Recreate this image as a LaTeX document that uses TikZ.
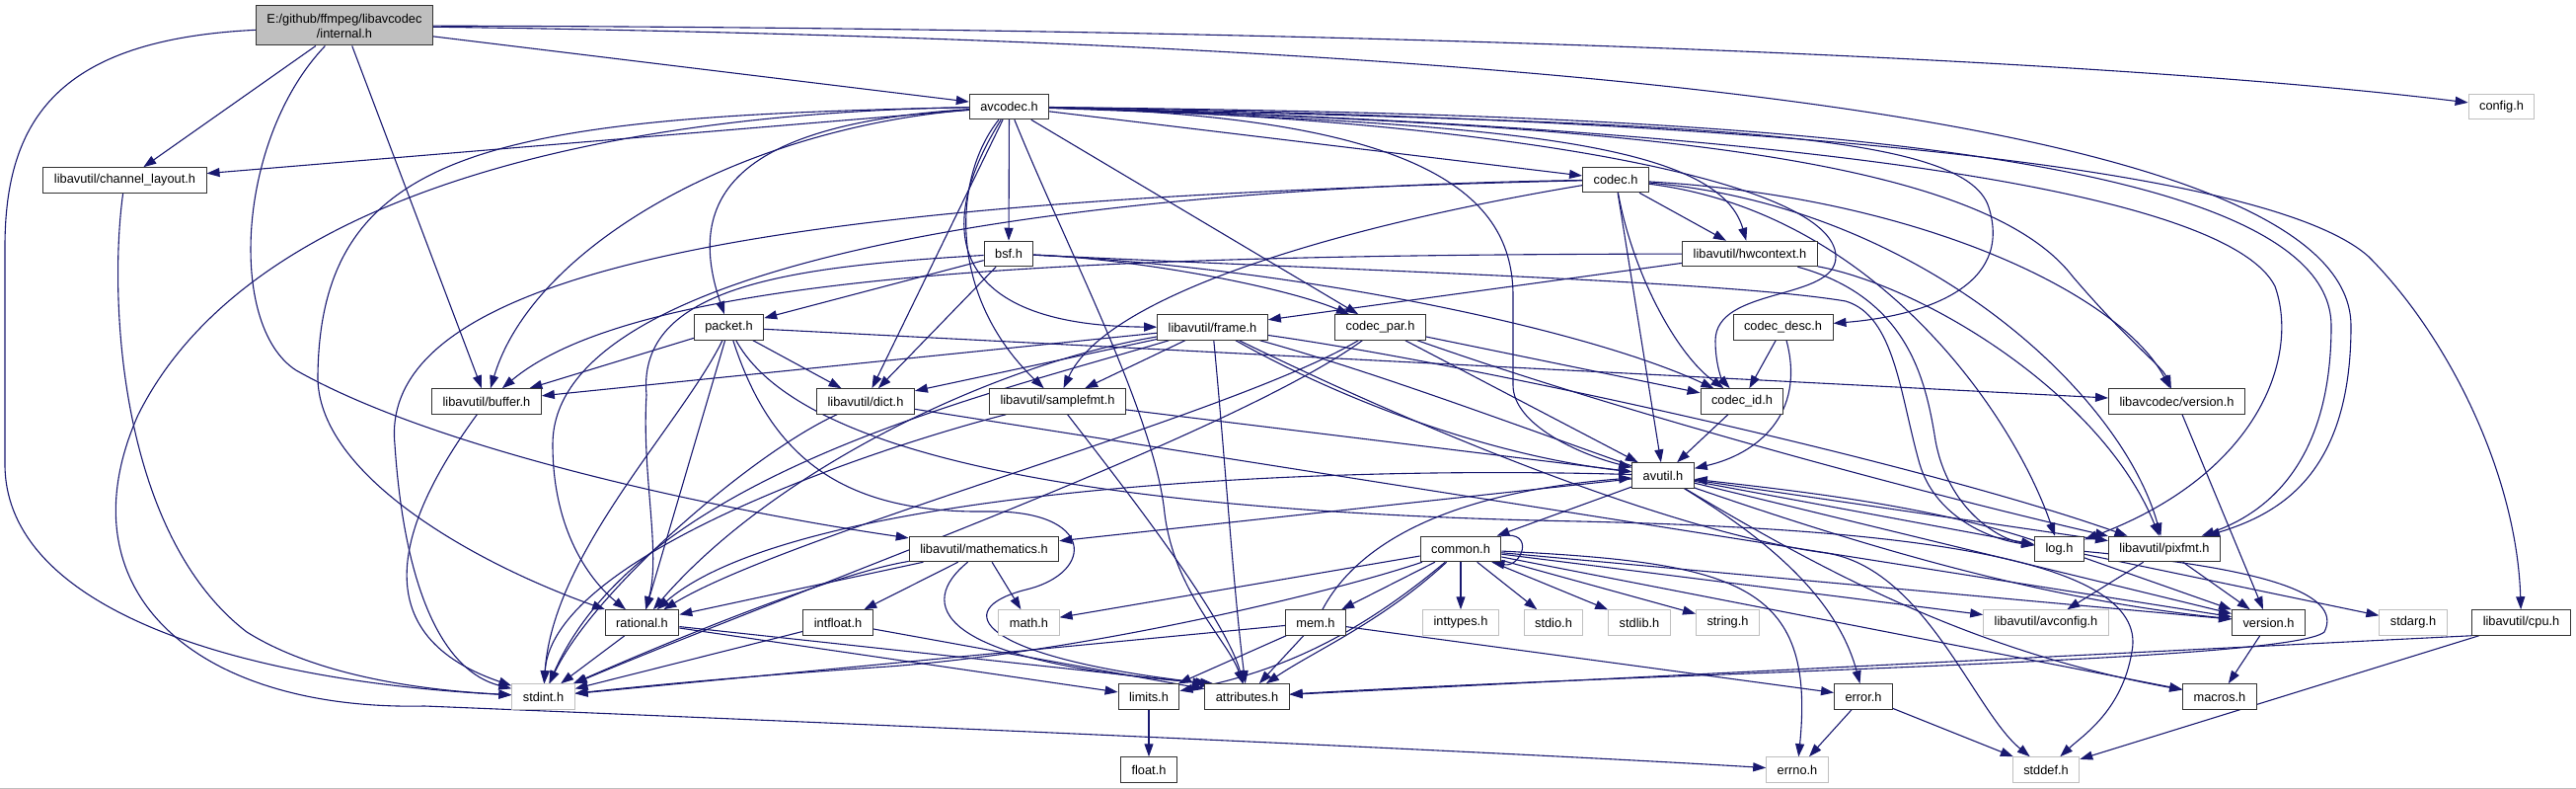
\documentclass[tikz,border=0pt]{standalone}
\usepackage{fontspec}
\setmainfont{Liberation Sans}
\usetikzlibrary{arrows.meta,backgrounds}
\definecolor{edgeblue}{HTML}{191970}
\definecolor{sysline}{HTML}{BFBFBF}
\definecolor{rootfill}{HTML}{BFBFBF}
\tikzset{
  hdr/.style={draw=black!80, line width=1pt, fill=white, inner xsep=11pt,
    minimum height=25.5pt, font=\fontsize{12.8}{15}\selectfont},
  syshdr/.style={hdr, draw=sysline},
  rootfile/.style={hdr, fill=rootfill, minimum height=40pt, align=center},
  dep/.style={draw=edgeblue, line width=1.1pt, -{Triangle[length=13pt,width=9pt]}}
}

\begin{document}
\begin{tikzpicture}[x=1pt, y=-1pt]
  \useasboundingbox (0,0) rectangle (2610,799);
  \node[rootfile] (internal) at (349,26) {E:/github/ffmpeg/libavcodec\\/internal.h};
  \node[syshdr] (config) at (2534.5,108) {config.h};
  \node[hdr] (avcodec) at (1022.5,108) {avcodec.h};
  \node[hdr] (chlayout) at (126.5,182.5) {libavutil/channel\_layout.h};
  \node[hdr] (codec) at (1637,182) {codec.h};
  \node[hdr] (bsf) at (1022,257) {bsf.h};
  \node[hdr] (hwctx) at (1773,257) {libavutil/hwcontext.h};
  \node[hdr] (packet) at (738.5,331.5) {packet.h};
  \node[hdr] (frame) at (1228.5,331.5) {libavutil/frame.h};
  \node[hdr] (codecpar) at (1398.5,331.5) {codec\_par.h};
  \node[hdr] (codecdesc) at (1806.5,331.5) {codec\_desc.h};
  \node[hdr] (buffer) at (493,406.5) {libavutil/buffer.h};
  \node[hdr] (dict) at (877,406.5) {libavutil/dict.h};
  \node[hdr] (samplefmt) at (1071.5,406.5) {libavutil/samplefmt.h};
  \node[hdr] (codecid) at (1765,406.5) {codec\_id.h};
  \node[hdr] (avcver) at (2205.5,406.5) {libavcodec/version.h};
  \node[hdr] (avutil) at (1685,481.5) {avutil.h};
  \node[hdr] (mathematics) at (997,556) {libavutil/mathematics.h};
  \node[hdr] (common) at (1480,556) {common.h};
  \node[hdr] (logh) at (2086.5,556) {log.h};
  \node[hdr] (pixfmt) at (2193,556) {libavutil/pixfmt.h};
  \node[hdr] (rational) at (650.5,630.5) {rational.h};
  \node[hdr] (intfloat) at (849,630.5) {intfloat.h};
  \node[syshdr] (mathh) at (1042.5,630.5) {math.h};
  \node[hdr] (mem) at (1333,630.5) {mem.h};
  \node[syshdr] (inttypes) at (1480,630.5) {inttypes.h};
  \node[syshdr] (stdio) at (1574,630.5) {stdio.h};
  \node[syshdr] (stdlib) at (1661,630.5) {stdlib.h};
  \node[syshdr] (stringh) at (1750.5,630.5) {string.h};
  \node[syshdr] (avconfig) at (2073,630.5) {libavutil/avconfig.h};
  \node[hdr] (version) at (2298.5,630.5) {version.h};
  \node[syshdr] (stdarg) at (2445,630.5) {stdarg.h};
  \node[hdr] (cpu) at (2554.5,630.5) {libavutil/cpu.h};
  \node[syshdr] (stdint) at (550.5,705.5) {stdint.h};
  \node[hdr] (limits) at (1164,705.5) {limits.h};
  \node[hdr] (attributes) at (1263.5,705.5) {attributes.h};
  \node[hdr] (error) at (1888,705.5) {error.h};
  \node[hdr] (macros) at (2249,705.5) {macros.h};
  \node[hdr] (floath) at (1164,779.5) {float.h};
  \node[syshdr] (errno) at (1821,779.5) {errno.h};
  \node[syshdr] (stddef) at (2073,779.5) {stddef.h};
  \draw[sysline, line width=1pt] (0,798) -- (2610,798);

  \begin{scope}[on background layer]
    % internal.h
    \draw[dep] (internal) .. controls (1300,28) and (2100,55) .. (config);
    \draw[dep] (internal) .. controls (1500,42) and (2382,110) .. (2382,330) .. controls (2382,480) and (2310,520) .. (pixfmt);
    \draw[dep] (internal) -- (avcodec);
    \draw[dep] (internal) -- (chlayout);
    \draw[dep] (internal) .. controls (240,140) and (230,330) .. (300,375) .. controls (450,460) and (750,520) .. (mathematics);
    \draw[dep] (internal) -- (buffer);
    \draw[dep] (internal) .. controls (60,40) and (5,120) .. (5,250) -- (5,470) .. controls (5,620) and (250,690) .. (stdint);
    % avcodec.h
    \draw[dep] (avcodec) -- (chlayout);
    \draw[dep] (avcodec) .. controls (600,115) and (250,200) .. (140,420) .. controls (60,600) and (200,720) .. (430,715) .. controls (800,730) and (1500,760) .. (errno);
    \draw[dep] (avcodec) .. controls (500,118) and (325,150) .. (322,380) .. controls (320,480) and (480,570) .. (rational);
    \draw[dep] (avcodec) .. controls (750,130) and (540,250) .. (buffer);
    \draw[dep] (avcodec) .. controls (760,125) and (690,190) .. (packet);
    \draw[dep] (avcodec) -- (dict);
    \draw[dep] (avcodec) .. controls (965,180) and (960,300) .. (samplefmt);
    \draw[dep] (avcodec) -- (bsf);
    \draw[dep] (avcodec) .. controls (940,240) and (970,330) .. (frame);
    \draw[dep] (avcodec) -- (codecpar);
    \draw[dep] (avcodec) -- (codec);
    \draw[dep] (avcodec) .. controls (1500,125) and (1740,140) .. (hwctx);
    \draw[dep] (avcodec) .. controls (1500,120) and (1860,180) .. (1860,260) .. controls (1860,305) and (1738,290) .. (1738,345) .. controls (1738,370) and (1745,385) .. (codecid);
    \draw[dep] (avcodec) .. controls (1700,125) and (1990,130) .. (2015,210) .. controls (2040,290) and (1950,320) .. (codecdesc);
    \draw[dep] (avcodec) .. controls (1600,125) and (2000,150) .. (2100,280) .. controls (2160,350) and (2190,370) .. (avcver);
    \draw[dep] (avcodec) .. controls (1700,125) and (2250,180) .. (2305,290) .. controls (2330,360) and (2290,480) .. (logh);
    \draw[dep] (avcodec) .. controls (1600,115) and (2362,130) .. (2362,330) .. controls (2362,470) and (2295,520) .. (pixfmt);
    \draw[dep] (avcodec) .. controls (1450,118) and (1533,200) .. (1533,300) -- (1533,390) .. controls (1533,430) and (1600,460) .. (avutil);
    \draw[dep] (avcodec) .. controls (1800,120) and (2300,170) .. (2400,260) .. controls (2480,340) and (2550,480) .. (cpu);
    \draw[dep] (avcodec) .. controls (1080,250) and (1170,420) .. (1180,520) .. controls (1190,600) and (1245,650) .. (attributes);
    % channel_layout.h
    \draw[dep] (chlayout) .. controls (110,300) and (120,540) .. (250,640) .. controls (330,690) and (450,700) .. (stdint);
    % codec.h
    \draw[dep] (codec) .. controls (900,200) and (380,250) .. (400,450) .. controls (410,600) and (450,680) .. (stdint);
    \draw[dep] (codec) .. controls (1100,190) and (560,260) .. (560,450) .. controls (560,540) and (600,590) .. (rational);
    \draw[dep] (codec) -- (avutil);
    \draw[dep] (codec) -- (hwctx);
    \draw[dep] (codec) .. controls (1900,215) and (2040,420) .. (logh);
    \draw[dep] (codec) .. controls (1950,210) and (2150,400) .. (pixfmt);
    \draw[dep] (codec) .. controls (1350,230) and (1120,300) .. (samplefmt);
    \draw[dep] (codec) .. controls (1655,280) and (1700,360) .. (codecid);
    \draw[dep] (codec) .. controls (1950,200) and (2150,300) .. (avcver);
    % bsf.h
    \draw[dep] (bsf) -- (dict);
    \draw[dep] (bsf) -- (packet);
    \draw[dep] (bsf) .. controls (1150,262) and (1300,290) .. (codecpar);
    \draw[dep] (bsf) .. controls (1300,270) and (1600,330) .. (codecid);
    \draw[dep] (bsf) .. controls (1400,275) and (1750,285) .. (1870,305) .. controls (1920,320) and (1925,400) .. (1945,470) .. controls (1960,520) and (2010,545) .. (logh);
    \draw[dep] (bsf) .. controls (800,270) and (645,290) .. (655,400) .. controls (650,480) and (670,560) .. (rational);
    % hwcontext.h
    \draw[dep] (hwctx) .. controls (1100,258) and (650,275) .. (buffer);
    \draw[dep] (hwctx) -- (frame);
    \draw[dep] (hwctx) .. controls (1930,300) and (1950,380) .. (1960,440) .. controls (1970,510) and (2020,545) .. (logh);
    \draw[dep] (hwctx) .. controls (1950,290) and (2130,400) .. (pixfmt);
    % packet.h
    \draw[dep] (packet) -- (buffer);
    \draw[dep] (packet) -- (dict);
    \draw[dep] (packet) -- (rational);
    \draw[dep] (packet) .. controls (690,430) and (560,560) .. (stdint);
    \draw[dep] (packet) .. controls (820,480) and (1200,520) .. (1600,528) .. controls (1900,535) and (2180,560) .. (2160,660) .. controls (2150,720) and (2110,745) .. (stddef);
    \draw[dep] (packet) .. controls (780,460) and (850,520) .. (1000,518) .. controls (1110,516) and (1110,580) .. (1040,597) .. controls (960,617) and (990,665) .. ([xshift=4pt]attributes.north west);
    \draw[dep] (packet) -- (avcver);
    % frame.h
    \draw[dep] (frame) -- (buffer);
    \draw[dep] (frame) -- (dict);
    \draw[dep] (frame) -- (samplefmt);
    \draw[dep] (frame) .. controls (1000,370) and (780,480) .. (rational);
    \draw[dep] (frame) .. controls (1000,400) and (650,480) .. (stdint);
    \draw[dep] (frame) .. controls (1350,400) and (1500,460) .. (avutil);
    \draw[dep] (frame) .. controls (1500,370) and (1950,470) .. (pixfmt);
    \draw[dep] (frame) .. controls (1550,420) and (1900,590) .. (version);
    \draw[dep] (frame) .. controls (1450,440) and (1700,540) .. (1850,560) .. controls (1950,575) and (2000,720) .. (stddef);
    \draw[dep] (frame) .. controls (1240,450) and (1250,600) .. (attributes);
    % codec_par.h, codec_desc.h, codec_id.h
    \draw[dep] (codecpar) .. controls (1250,440) and (800,600) .. (stdint);
    \draw[dep] (codecpar) .. controls (1250,420) and (800,540) .. (rational);
    \draw[dep] (codecpar) -- (avutil);
    \draw[dep] (codecpar) .. controls (1650,420) and (1950,500) .. (pixfmt);
    \draw[dep] (codecpar) -- (codecid);
    \draw[dep] (codecdesc) .. controls (1830,420) and (1780,460) .. (avutil);
    \draw[dep] (codecdesc) -- (codecid);
    \draw[dep] (codecid) -- (avutil);
    \draw[dep] (avcver) -- (version);
    % buffer.h, dict.h, samplefmt.h
    \draw[dep] (buffer) .. controls (410,520) and (360,640) .. (stdint);
    \draw[dep] (dict) .. controls (760,460) and (600,600) .. (stdint);
    \draw[dep] (dict) -- (version);
    \draw[dep] (samplefmt) .. controls (900,450) and (560,560) .. (stdint);
    \draw[dep] (samplefmt) -- (avutil);
    \draw[dep] (samplefmt) .. controls (1120,470) and (1240,620) .. (attributes);
    % mathematics.h, intfloat.h, rational.h
    \draw[dep] (mathematics) -- (rational);
    \draw[dep] (mathematics) .. controls (850,580) and (700,640) .. (stdint);
    \draw[dep] (mathematics) -- (intfloat);
    \draw[dep] (mathematics) -- (mathh);
    \draw[dep] (mathematics) .. controls (930,610) and (940,670) .. ([xshift=9pt]attributes.north west);
    \draw[dep] (intfloat) -- (stdint);
    \draw[dep] (intfloat) -- (attributes);
    \draw[dep] (rational) -- (stdint);
    \draw[dep] (rational) -- (limits);
    \draw[dep] (rational) -- ([xshift=1pt]attributes.north west);
    \draw[dep] (limits) -- (floath);
    % avutil.h
    \draw[dep] (avutil) -- (common);
    \draw[dep] (avutil) .. controls (1780,540) and (1860,600) .. (error);
    \draw[dep] (avutil) -- (mathematics);
    \draw[dep] (avutil) .. controls (1300,470) and (800,500) .. (rational);
    \draw[dep] (avutil) -- (version);
    \draw[dep] (avutil) .. controls (1850,580) and (2000,660) .. (macros);
    \draw[dep] (avutil) -- (logh);
    \draw[dep] (avutil) -- (pixfmt);
    % common.h
    \draw[dep] (common.north east) .. controls +(35,-6) and +(30,6) .. ([xshift=-10pt]common.south east);
    \draw[dep] (common) .. controls (1760,570) and (1840,590) .. (errno);
    \draw[dep] (common) -- (inttypes);
    \draw[dep] (common) -- (stdio);
    \draw[dep] (common) -- (stdlib);
    \draw[dep] (common) -- (stringh);
    \draw[dep] (common) .. controls (1380,640) and (1300,680) .. (limits);
    \draw[dep] (common) -- (mathh);
    \draw[dep] (common) .. controls (1350,600) and (1100,660) .. (900,675) .. controls (750,685) and (650,695) .. (stdint);
    \draw[dep] (common) .. controls (1400,630) and (1330,660) .. (attributes);
    \draw[dep] (common) -- (macros);
    \draw[dep] (common) -- (version);
    \draw[dep] (common) -- (avconfig);
    \draw[dep] (common) -- (mem);
    % mem.h
    \draw[dep] (mem) .. controls (1370,560) and (1450,500) .. (avutil);
    \draw[dep] (mem) -- (error);
    \draw[dep] (mem) -- (limits);
    \draw[dep] (mem) -- (stdint);
    \draw[dep] (mem) -- (attributes);
    % error.h, log.h, pixfmt.h, version.h, cpu.h
    \draw[dep] (error) -- (errno);
    \draw[dep] (error) -- (stddef);
    \draw[dep] (logh) -- (stdarg);
    \draw[dep] (logh) .. controls (1950,510) and (1800,495) .. (avutil);
    \draw[dep] (logh) -- (version);
    \draw[dep] (logh) .. controls (2290,575) and (2375,600) .. (2355,640) .. controls (2320,670) and (1700,680) .. (attributes);
    \draw[dep] (pixfmt) -- (avconfig);
    \draw[dep] (pixfmt) -- (version);
    \draw[dep] (version) -- (macros);
    \draw[dep] (cpu) -- (stddef);
    \draw[dep] (cpu.south west) -- (attributes);
  \end{scope}
\end{tikzpicture}
\end{document}
